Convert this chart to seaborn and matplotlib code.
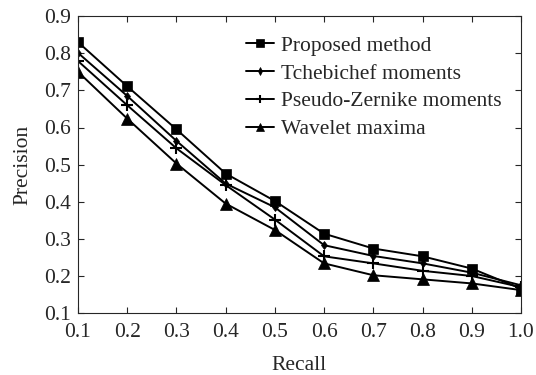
import matplotlib
matplotlib.use("Agg")
import matplotlib.pyplot as plt
import seaborn as sns
import pandas as pd

recall = [0.1, 0.2, 0.3, 0.4, 0.5, 0.6, 0.7, 0.8, 0.9, 1.0]
proposed = [0.83, 0.711, 0.595, 0.476, 0.402, 0.314, 0.274, 0.253, 0.220, 0.166]
tchebichef = [0.801, 0.685, 0.564, 0.449, 0.385, 0.283, 0.254, 0.234, 0.209, 0.175]
zernike = [0.779, 0.660, 0.544, 0.445, 0.352, 0.253, 0.234, 0.214, 0.200, 0.170]
wavelet = [0.750, 0.624, 0.503, 0.395, 0.324, 0.234, 0.202, 0.191, 0.180, 0.162]

series = [
    ("Proposed method", proposed, "s", 7),
    ("Tchebichef moments", tchebichef, "d", 4.5),
    ("Pseudo-Zernike moments", zernike, "+", 8),
    ("Wavelet maxima", wavelet, "^", 8),
]

sns.set_style("ticks")
plt.rcParams['font.family'] = ['Liberation Serif', 'DejaVu Serif']
plt.rcParams['xtick.direction'] = 'in'
plt.rcParams['ytick.direction'] = 'in'

fig = plt.figure(figsize=(5.36, 3.75), dpi=100)
ax = fig.add_axes([0.1455, 0.165, 0.8265, 0.792])

for name, vals, mk, ms in series:
    df = pd.DataFrame({"Recall": recall, "Precision": vals})
    sns.lineplot(data=df, x="Recall", y="Precision", ax=ax, color="black",
                 marker=mk, markersize=ms, markeredgecolor="black",
                 markeredgewidth=1.5 if mk == "+" else 0.5,
                 linewidth=1.4, label=name)

ax.set_xlim(0.1, 1.0)
ax.set_ylim(0.1, 0.9)
ax.set_xticks(recall)
ax.set_xticklabels([f"{v:.1f}" for v in recall])
ax.set_yticks([0.1, 0.2, 0.3, 0.4, 0.5, 0.6, 0.7, 0.8, 0.9])
ax.tick_params(labelsize=15.5, length=4, top=True, right=True, width=0.8)
ax.tick_params(axis="x", pad=7)
ax.tick_params(axis="y", pad=5)
for s in ax.spines.values():
    s.set_linewidth(0.8)
ax.set_xlabel("Recall", fontsize=15.5, labelpad=10)
ax.set_ylabel("Precision", fontsize=15.5, labelpad=8)

ax.legend(loc="upper right", bbox_to_anchor=(0.99, 0.985), frameon=False,
          fontsize=15.5, handlelength=1.3, handletextpad=0.3, labelspacing=0.36,
          borderaxespad=0.3, markerscale=0.8)

fig.savefig("out.png", dpi=100)
